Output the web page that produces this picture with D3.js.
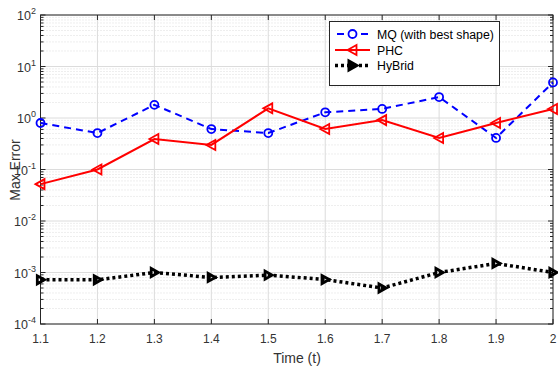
<!DOCTYPE html>
<html><head><meta charset="utf-8">
<script src="https://cdn.jsdelivr.net/npm/d3@7"></script>
<style>body{margin:0;background:#fff}svg{display:block;font-family:"Liberation Sans",Arial,sans-serif}</style>
</head><body><svg id="c" width="558" height="367"></svg>
<script>
const times = [1.1,1.2,1.3,1.4,1.5,1.6,1.7,1.8,1.9,2.0];
const xTicks = [1.1,1.2,1.3,1.4,1.5,1.6,1.7,1.8,1.9,2];
const xTickLabels = ["1.1","1.2","1.3","1.4","1.5","1.6","1.7","1.8","1.9","2"];
const yTickExps = [-4,-3,-2,-1,0,1,2];
const mqValues  = [0.8,0.51,1.8,0.61,0.51,1.29,1.5,2.55,0.41,4.9];
const phcValues = [0.052,0.1,0.39,0.30,1.54,0.61,0.91,0.41,0.8,1.5];
const hybValues = [7.2e-4,7.2e-4,1.0e-3,8.0e-4,8.9e-4,7.3e-4,5.0e-4,1.0e-3,1.5e-3,1.0e-3];
const seriesNames = ["MQ (with best shape)","PHC","HyBrid"];

const L=40.5,R=553,T=15,B=324;
const svg=d3.select("#c");
const x=d3.scaleLinear().domain([1.1,2]).range([L,R]);
const y=d3.scaleLog().domain([1e-4,1e2]).range([B,T]);

const minors=[];
for(let e=-4;e<2;e++) for(let k=2;k<10;k++) minors.push(k*Math.pow(10,e));
svg.append("g").selectAll("line").data(minors).join("line")
  .attr("x1",L).attr("x2",R).attr("y1",d=>y(d)).attr("y2",d=>y(d))
  .attr("stroke","#d4d4d4").attr("stroke-width",0.8).attr("stroke-dasharray","1,2");
svg.append("g").selectAll("line").data(yTickExps).join("line")
  .attr("x1",L).attr("x2",R).attr("y1",d=>y(Math.pow(10,d))).attr("y2",d=>y(Math.pow(10,d)))
  .attr("stroke","#dcdcdc").attr("stroke-width",1);
svg.append("g").selectAll("line").data(xTicks).join("line")
  .attr("x1",d=>x(d)).attr("x2",d=>x(d)).attr("y1",T).attr("y2",B)
  .attr("stroke","#dcdcdc").attr("stroke-width",1);

const ax=svg.append("g").attr("stroke","#262626").attr("stroke-width",1);
ax.append("rect").attr("x",L).attr("y",T).attr("width",R-L).attr("height",B-T).attr("fill","none");
xTicks.forEach(t=>{
  ax.append("line").attr("x1",x(t)).attr("x2",x(t)).attr("y1",B).attr("y2",B-5);
  ax.append("line").attr("x1",x(t)).attr("x2",x(t)).attr("y1",T).attr("y2",T+5);
});
yTickExps.forEach(e=>{
  const yy=y(Math.pow(10,e));
  ax.append("line").attr("x1",L).attr("x2",L+5).attr("y1",yy).attr("y2",yy);
  ax.append("line").attr("x1",R).attr("x2",R-5).attr("y1",yy).attr("y2",yy);
});
minors.forEach(m=>{
  const yy=y(m);
  ax.append("line").attr("x1",L).attr("x2",L+3).attr("y1",yy).attr("y2",yy);
  ax.append("line").attr("x1",R).attr("x2",R-3).attr("y1",yy).attr("y2",yy);
});

svg.append("g").selectAll("text").data(xTicks).join("text")
  .attr("x",d=>x(d)).attr("y",343).attr("text-anchor","middle")
  .attr("font-size",12).attr("fill","#333").text((d,i)=>xTickLabels[i]);
const yl=svg.append("g").selectAll("text").data(yTickExps).join("text")
  .attr("x",36).attr("y",d=>y(Math.pow(10,d))+5).attr("text-anchor","end")
  .attr("font-size",12.5).attr("fill","#333");
yl.append("tspan").text("10");
yl.append("tspan").attr("dy",-6).attr("font-size",9).text(d=>String(d));

svg.append("text").attr("x",297).attr("y",363).attr("text-anchor","middle")
  .attr("font-size",14).attr("fill","#333").text("Time (t)");
svg.append("text").attr("transform","translate(20,170) rotate(-90)").attr("text-anchor","middle")
  .attr("font-size",14).attr("fill","#333").text("Max Error");

const line=d3.line().x((d,i)=>x(times[i])).y(d=>y(d));
const g=svg.append("g");
g.append("path").datum(mqValues).attr("d",line).attr("fill","none")
  .attr("stroke","#0000ff").attr("stroke-width",2).attr("stroke-dasharray","7,5");
g.append("path").datum(phcValues).attr("d",line).attr("fill","none")
  .attr("stroke","#ff0000").attr("stroke-width",2);
g.append("path").datum(hybValues).attr("d",line).attr("fill","none")
  .attr("stroke","#000").attr("stroke-width",3.5).attr("stroke-dasharray","3,3");

function leftTri(cx,cy,s){return `M${cx-s},${cy} L${cx+s*0.8},${cy-s} L${cx+s*0.8},${cy+s} Z`;}
function rightTri(cx,cy,s){return `M${cx+s},${cy} L${cx-s*0.8},${cy-s} L${cx-s*0.8},${cy+s} Z`;}

g.selectAll(".mq").data(mqValues).join("circle")
  .attr("cx",(d,i)=>x(times[i])).attr("cy",d=>y(d)).attr("r",4)
  .attr("fill","none").attr("stroke","#0000ff").attr("stroke-width",1.8);
g.selectAll(".phc").data(phcValues).join("path")
  .attr("d",(d,i)=>leftTri(x(times[i]),y(d),5)).attr("fill","none").attr("stroke","#ff0000").attr("stroke-width",1.8);
g.selectAll(".hyb").data(hybValues).join("path")
  .attr("d",(d,i)=>rightTri(x(times[i]),y(d),4)).attr("fill","none").attr("stroke","#000").attr("stroke-width",2.8);

const lg=svg.append("g");
lg.append("rect").attr("x",329.5).attr("y",21.5).attr("width",170).attr("height",64)
  .attr("fill","#fff").attr("stroke","#262626").attr("stroke-width",1);
const rows=[34,50,65.5];
const lx1=335,lx2=370,lm=(lx1+lx2)/2;
lg.append("line").attr("x1",lx1).attr("x2",lx2).attr("y1",rows[0]).attr("y2",rows[0])
  .attr("stroke","#0000ff").attr("stroke-width",2).attr("stroke-dasharray","7,5").attr("stroke-dashoffset",-2);
lg.append("circle").attr("cx",lm).attr("cy",rows[0]).attr("r",4).attr("fill","#fff").attr("stroke","#0000ff").attr("stroke-width",1.8);
lg.append("line").attr("x1",lx1).attr("x2",lx2).attr("y1",rows[1]).attr("y2",rows[1])
  .attr("stroke","#ff0000").attr("stroke-width",2);
lg.append("path").attr("d",leftTri(lm,rows[1],5)).attr("fill","none").attr("stroke","#ff0000").attr("stroke-width",1.8);
lg.append("line").attr("x1",lx1).attr("x2",lx2).attr("y1",rows[2]).attr("y2",rows[2])
  .attr("stroke","#000").attr("stroke-width",3.5).attr("stroke-dasharray","3,3");
lg.append("path").attr("d",rightTri(lm,rows[2],4.5)).attr("fill","#000").attr("stroke","#000").attr("stroke-width",2.8);
seriesNames.forEach((n,i)=>{
  lg.append("text").attr("x",377).attr("y",rows[i]+4.5).attr("font-size",12.3).attr("fill","#000").text(n);
});
</script></body></html>
